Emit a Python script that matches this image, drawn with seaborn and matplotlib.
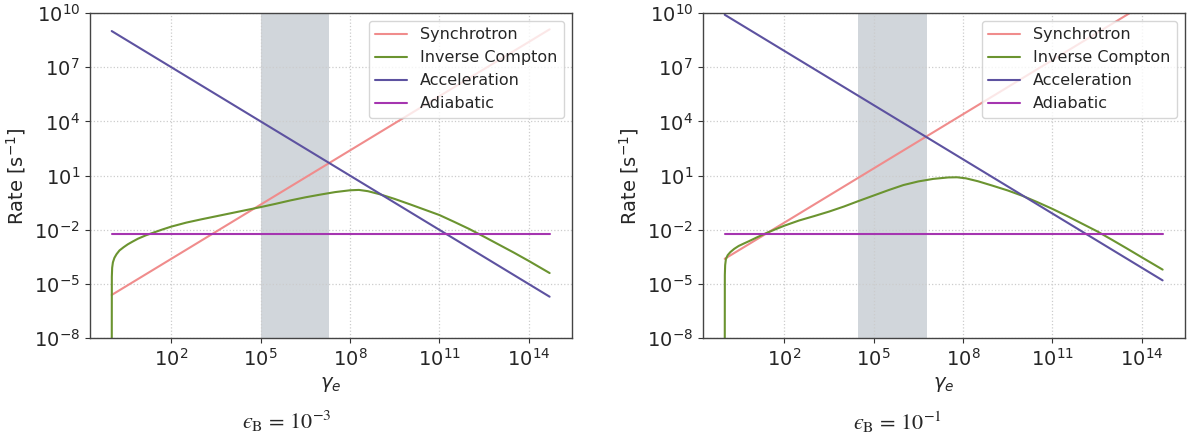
import numpy as np
import matplotlib
matplotlib.use("Agg")
import matplotlib.pyplot as plt
import matplotlib.ticker as mticker
import seaborn as sns

sns.set_theme(style="ticks")
plt.rcParams["font.family"] = ["DejaVu Sans"]

# panel captions
captions = [r"$ϵ_{\rm B}$ = $10^{-3}$", r"$ϵ_{\rm B}$ = $10^{-1}$"]
labels = ["Synchrotron", "Inverse Compton", "Acceleration", "Adiabatic"]
colors = ["#f08c8c", "#6b9430", "#5d52a0", "#a535b0"]

# straight power-law rates: values at gamma = 1 and gamma = 5e14
gamma_ends = [1.0, 5e14]
sync_ends = [[2.5e-6, 1.25e9], [2.5e-4, 1.25e11]]
accel_ends = [[1e9, 2e-6], [8e9, 1.6e-5]]
adiab_ends = [[5.8e-3, 5.8e-3], [5.8e-3, 5.8e-3]]

# shaded gamma band
band = [[1e5, 2e7], [2.9e4, 6.2e6]]

# inverse Compton rate (log10 gamma, log10 rate)
ic_loggamma = [
    [0.0, 0.004, 0.015, 0.04, 0.09, 0.16, 0.26, 0.4, 0.54, 0.7, 0.88, 1.15,
     1.44, 1.7, 2.0, 2.5, 3.0, 3.5, 4.0, 4.5, 5.0, 5.5, 6.0, 6.5, 7.0, 7.5,
     8.0, 8.3, 8.6, 9.0, 9.5, 10.0, 10.5, 11.0, 11.5, 12.0, 12.5, 13.0, 13.5,
     14.0, 14.7],
    [0.0, 0.004, 0.015, 0.04, 0.1, 0.19, 0.32, 0.47, 0.65, 0.81, 1.1, 1.38,
     1.7, 2.0, 2.5, 3.0, 3.5, 4.0, 4.5, 5.0, 5.5, 6.0, 6.5, 7.0, 7.5, 7.8,
     8.1, 8.5, 9.0, 9.5, 10.0, 10.5, 11.0, 11.5, 12.0, 12.5, 13.0, 13.5, 14.0,
     14.7],
]
ic_lograte = [
    [-12.0, -4.6, -4.1, -3.8, -3.55, -3.35, -3.14, -2.96, -2.80, -2.65, -2.49,
     -2.30, -2.13, -1.98, -1.82, -1.60, -1.42, -1.25, -1.08, -0.91, -0.74,
     -0.56, -0.37, -0.20, -0.05, 0.09, 0.19, 0.21, 0.14, -0.03, -0.29, -0.58,
     -0.88, -1.18, -1.56, -1.95, -2.38, -2.82, -3.26, -3.72, -4.39],
    [-12.0, -4.5, -3.95, -3.62, -3.40, -3.23, -3.05, -2.89, -2.75, -2.63,
     -2.40, -2.19, -1.97, -1.77, -1.48, -1.24, -0.99, -0.71, -0.40, -0.10,
     0.20, 0.48, 0.68, 0.82, 0.90, 0.91, 0.85, 0.69, 0.44, 0.18, -0.12, -0.47,
     -0.84, -1.24, -1.66, -2.08, -2.55, -3.03, -3.52, -4.20],
]

fig = plt.figure(figsize=(11.94, 4.45), dpi=100)
ax_lefts = [0.0751, 0.5885]
cap_x = [0.240, 0.752]

for i in range(2):
    ax = fig.add_axes([ax_lefts[i], 0.2398, 0.4037, 0.7310])
    ax.axvspan(band[i][0], band[i][1], color="slategray", alpha=0.32, lw=0, zorder=0)
    ig = 10 ** np.array(ic_loggamma[i])
    ir = 10 ** np.array(ic_lograte[i])
    sns.lineplot(x=gamma_ends, y=sync_ends[i], ax=ax, color=colors[0], lw=1.5, label=labels[0])
    sns.lineplot(x=ig, y=ir, ax=ax, color=colors[1], lw=1.5, label=labels[1], sort=False)
    sns.lineplot(x=gamma_ends, y=accel_ends[i], ax=ax, color=colors[2], lw=1.5, label=labels[2])
    sns.lineplot(x=gamma_ends, y=adiab_ends[i], ax=ax, color=colors[3], lw=1.5, label=labels[3])
    ax.set_xscale("log")
    ax.set_yscale("log")
    ax.set_xlim(10 ** -0.74, 10 ** 15.44)
    ax.set_ylim(1e-8, 1e10)
    ax.set_xticks([1e2, 1e5, 1e8, 1e11, 1e14])
    ax.set_yticks([1e-8, 1e-5, 1e-2, 1e1, 1e4, 1e7, 1e10])
    ax.xaxis.set_minor_locator(mticker.NullLocator())
    ax.yaxis.set_minor_locator(mticker.NullLocator())
    ax.tick_params(labelsize=14, length=3.5, width=0.8, colors="#333333", labelcolor="#262626")
    ax.grid(True, ls=":", lw=0.9, color="#cccccc")
    for s in ax.spines.values():
        s.set_color("#444444")
        s.set_linewidth(1.0)
    ax.set_xlabel(r"$\gamma_e$", fontsize=14)
    ax.set_ylabel(r"Rate [s$^{-1}$]", fontsize=14)
    ax.legend(loc="upper right", fontsize=11.5, framealpha=0.8)
    fig.text(cap_x[i], 0.052, captions[i], ha="center", va="center",
             fontsize=16, math_fontfamily="stix", family="STIXGeneral")

fig.savefig("out.png", dpi=100)
